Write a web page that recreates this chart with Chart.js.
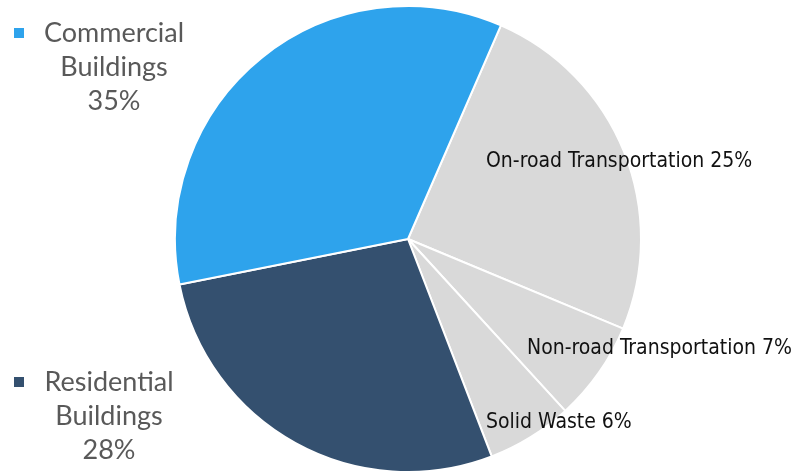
<!DOCTYPE html>
<html>
<head>
<meta charset="utf-8">
<script src="https://cdn.jsdelivr.net/npm/chart.js@4"></script>
<style>
  html, body { margin: 0; padding: 0; background: #fff; }
  #wrap { width: 794px; height: 474px; }
</style>
</head>
<body>
<div id="wrap"><canvas id="pieChart" width="794" height="474"></canvas></div>
<script>
// adatok
const categories = ['On-road Transportation', 'Non-road Transportation', 'Solid Waste', 'Residential Buildings', 'Commercial Buildings'];
const shares = [25, 7, 6, 28, 35];
const sliceColors = ['#d9d9d9', '#d9d9d9', '#d9d9d9', '#34506f', '#2ea3ec'];

// felirat helyek (px)
const rightLabels = [
    { i: 0, x: 486, y: 162 },
    { i: 1, x: 527, y: 349 },
    { i: 2, x: 486, y: 423 }
];
const leftLabels = [
    { i: 4, lines: ['Commercial', 'Buildings'], cx: 114, y: 33, mx: 14, my: 28 },
    { i: 3, lines: ['Residential', 'Buildings'], cx: 109, y: 382, mx: 14, my: 377 }
];

const labelPlugin = {
    id: 'labelPlugin',
    afterDraw(chart) {
        const ctx = chart.ctx;
        ctx.save();
        ctx.textBaseline = 'middle';
        ctx.textAlign = 'left';
        ctx.fillStyle = '#111';
        ctx.font = '21px "DejaVu Sans Condensed"';
        rightLabels.forEach(l => {
            ctx.fillText(categories[l.i] + ' ' + shares[l.i] + '%', l.x, l.y);
        });
        ctx.font = '27px "Lato"';
        leftLabels.forEach(l => {
            ctx.fillStyle = sliceColors[l.i];
            ctx.fillRect(l.mx, l.my, 10, 10);
            ctx.fillStyle = '#595959';
            ctx.textAlign = 'center';
            const texts = l.lines.concat([shares[l.i] + '%']);
            texts.forEach((t, k) => ctx.fillText(t, l.cx, l.y + k * 34));
        });
        ctx.restore();
    }
};

new Chart(document.getElementById('pieChart').getContext('2d'), {
    type: 'pie',
    data: {
        labels: categories,
        datasets: [{
            data: shares,
            backgroundColor: sliceColors,
            borderColor: '#ffffff',
            borderWidth: 2
        }]
    },
    options: {
        responsive: false,
        animation: false,
        rotation: 23.5,
        layout: { padding: { left: 174, right: 152, top: 5, bottom: 1 } },
        plugins: {
            legend: { display: false },
            tooltip: { enabled: false }
        }
    },
    plugins: [labelPlugin]
});
</script>
</body>
</html>
